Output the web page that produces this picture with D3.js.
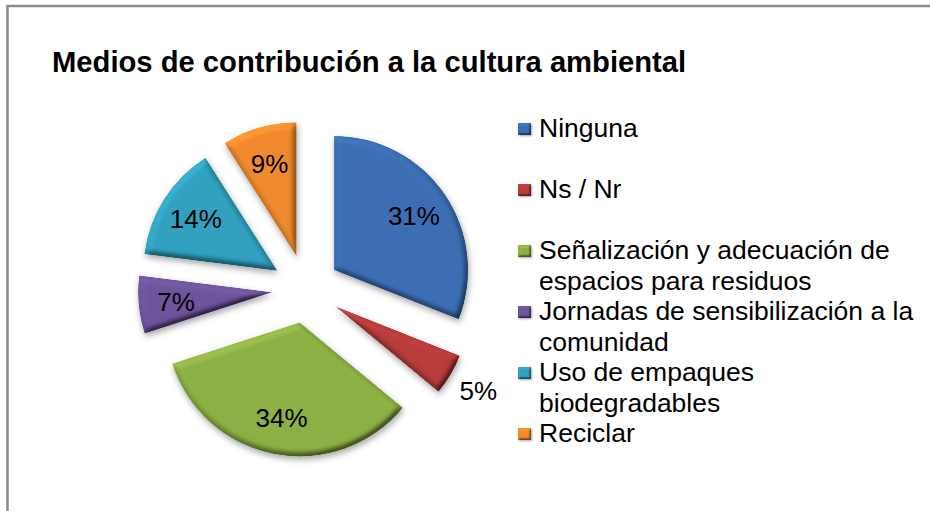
<!DOCTYPE html>
<html>
<head>
<meta charset="utf-8">
<script src="https://cdn.jsdelivr.net/npm/d3@7"></script>
<style>
  body { margin: 0; background: #fff; }
  text { font-family: 'Liberation Sans', Arial, sans-serif; }
</style>
</head>
<body>
<div id="chart"></div>
<script>
const title = 'Medios de contribución a la cultura ambiental';
const categories = [
  'Ninguna',
  'Ns / Nr',
  'Señalización y adecuación de espacios para residuos',
  'Jornadas de sensibilización a la comunidad',
  'Uso de empaques biodegradables',
  'Reciclar'
];
const values = [31, 5, 34, 7, 14, 9];
const colors = ['#3c6fb4', '#b83d3a', '#8db044', '#6f549b', '#31a1bf', '#ef8a2d'];

(function () {
  let width = 930,
    height = 511;

  let svg = d3.select('#chart').append('svg')
    .attr('width', width)
    .attr('height', height);

  // bevel + shadow filters
  let defs = svg.append('defs');
  function bevel(id, blur, scale, shadow) {
    let f = defs.append('filter').attr('id', id)
      .attr('x', '-20%').attr('y', '-20%').attr('width', '140%').attr('height', '140%');
    f.append('feGaussianBlur').attr('in', 'SourceAlpha').attr('stdDeviation', blur).attr('result', 'blur');
    f.append('feDiffuseLighting').attr('in', 'blur').attr('surfaceScale', scale)
      .attr('diffuseConstant', 1).attr('lighting-color', '#fff').attr('result', 'light')
      .append('feDistantLight').attr('azimuth', 235).attr('elevation', 50);
    f.append('feComposite').attr('in', 'SourceGraphic').attr('in2', 'light')
      .attr('operator', 'arithmetic').attr('k1', 1).attr('k2', 0.234).attr('k3', 0).attr('k4', 0)
      .attr('result', 'lit');
    f.append('feComposite').attr('in', 'lit').attr('in2', 'SourceAlpha').attr('operator', 'in').attr('result', 'litIn');
    f.append('feGaussianBlur').attr('in', 'SourceAlpha').attr('stdDeviation', shadow).attr('result', 'sblur');
    f.append('feOffset').attr('in', 'sblur').attr('dx', 1).attr('dy', shadow).attr('result', 'soff');
    f.append('feFlood').attr('flood-color', '#000').attr('flood-opacity', 0.35).attr('result', 'flood');
    f.append('feComposite').attr('in', 'flood').attr('in2', 'soff').attr('operator', 'in').attr('result', 'shadow');
    let m = f.append('feMerge');
    m.append('feMergeNode').attr('in', 'shadow');
    m.append('feMergeNode').attr('in', 'litIn');
  }
  bevel('bevel', 3, 6, 3);
  bevel('bevelSmall', 1.2, 3, 1);

  // frame
  svg.append('rect')
    .attr('x', 7.5).attr('y', 6)
    .attr('width', width + 20).attr('height', height + 20)
    .attr('fill', 'none')
    .attr('stroke', '#8a8a8a')
    .attr('stroke-width', 2.5);

  svg.append('text')
    .attr('x', 52).attr('y', 72)
    .style('font-size', '29.2px')
    .style('font-weight', 'bold')
    .attr('fill', '#000')
    .text(title);

  // pie
  let cx = 306, cy = 289, radius = 134, explode = 34;
  let pie = d3.pie().sort(null).value((d) => d);
  let arcs = pie(values);
  let arc = d3.arc().innerRadius(0).outerRadius(radius);

  let offset = (d, r) => {
    let a = (d.startAngle + d.endAngle) / 2;
    return [Math.sin(a) * r, -Math.cos(a) * r];
  };

  let g = svg.append('g').attr('transform', 'translate(' + cx + ',' + cy + ')');

  g.selectAll('path.slice')
    .data(arcs).enter()
    .append('path')
    .attr('class', 'slice')
    .attr('transform', (d) => 'translate(' + offset(d, explode) + ')')
    .attr('d', arc)
    .attr('fill', (d, i) => colors[i])
    .attr('filter', 'url(#bevel)');

  g.selectAll('text.pct')
    .data(arcs).enter()
    .append('text')
    .attr('class', 'pct')
    .attr('transform', (d) => {
      let o = offset(d, explode);
      let l = offset(d, d.data < 6 ? radius * 1.24 : radius * 0.72);
      return 'translate(' + (o[0] + l[0]) + ',' + (o[1] + l[1]) + ')';
    })
    .attr('text-anchor', 'middle')
    .attr('dy', '0.36em')
    .style('font-size', '26px')
    .attr('fill', '#000')
    .text((d) => d.data + '%');

  // legend
  let lx = 518, ly = 137, lineH = 30.5, maxW = 390;
  let legend = svg.append('g');

  categories.forEach((name, i) => {
    let y = ly + i * lineH * 2;
    legend.append('rect')
      .attr('x', lx).attr('y', y - 14)
      .attr('width', 13).attr('height', 12)
      .attr('fill', colors[i])
      .attr('filter', 'url(#bevelSmall)');

    let t = legend.append('text')
      .attr('x', lx + 21).attr('y', y)
      .style('font-size', '26.5px')
      .attr('fill', '#000');

    // wrap by width
    let words = name.split(' ');
    let line = [];
    let lineNo = 0;
    let tspan = t.append('tspan').attr('x', lx + 21).attr('y', y);
    words.forEach((w) => {
      line.push(w);
      tspan.text(line.join(' '));
      if (tspan.node().getComputedTextLength() > maxW && line.length > 1) {
        line.pop();
        tspan.text(line.join(' '));
        line = [w];
        lineNo++;
        tspan = t.append('tspan').attr('x', lx + 21).attr('y', y + lineNo * lineH).text(w);
      }
    });
  });
})();
</script>
</body>
</html>
